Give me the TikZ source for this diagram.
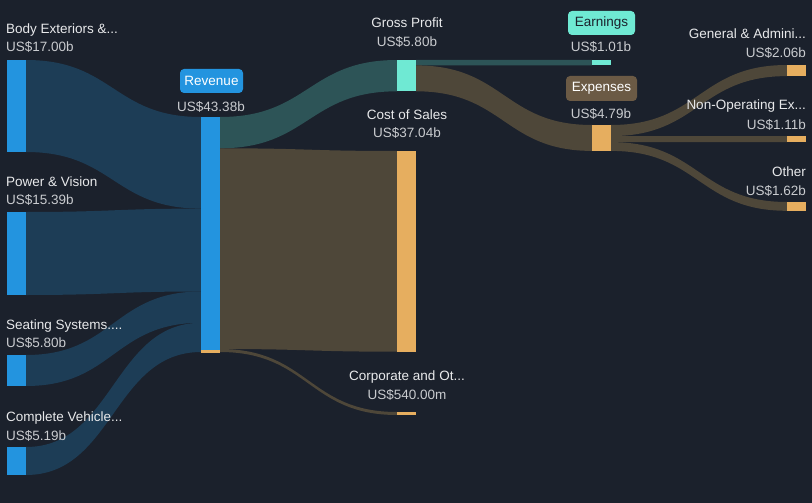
\documentclass[tikz,border=0pt]{standalone}
\usepackage{fontspec}
\setmainfont{Liberation Sans}
\definecolor{bg}{HTML}{1B212C}
\definecolor{flowblue}{HTML}{1D3D56}
\definecolor{flowteal}{HTML}{2D5457}
\definecolor{flowbrown}{HTML}{4E4739}
\definecolor{barblue}{HTML}{2394DF}
\definecolor{barteal}{HTML}{6FE9D3}
\definecolor{barorange}{HTML}{E6AE5F}
\definecolor{boxbrown}{HTML}{6B5A45}
\definecolor{titletext}{HTML}{E8E9EB}
\definecolor{valtext}{HTML}{C9CBCF}
\newcommand\sflow[7]{\fill[#7] (#1,#2) .. controls ({(#1+#4)/2},#2) and ({(#1+#4)/2},#5) .. (#4,#5) -- (#4,#6) .. controls ({(#1+#4)/2},#6) and ({(#1+#4)/2},#3) .. (#1,#3) -- cycle;}
\tikzset{
  ttl/.style={inner sep=0pt, text=titletext, font=\fontsize{13.5}{14}\selectfont},
  val/.style={inner sep=0pt, text=valtext, font=\fontsize{13.5}{14}\selectfont},
  tag/.style={rounded corners=4pt, inner sep=0pt, font=\fontsize{13.5}{14}\selectfont},
}
\begin{document}
\begin{tikzpicture}[x=1pt,y=-1pt]
\fill[bg] (0,0) rectangle (812,503);
\useasboundingbox (0,0) rectangle (812,503);
% flows left -> revenue
\sflow{26}{60}{152}{201}{117}{208.6}{flowblue}
\sflow{26}{212}{295}{201}{208.6}{291.5}{flowblue}
\sflow{26}{355}{386}{201}{291.5}{322.8}{flowblue}
\sflow{26}{447}{475}{201}{322.8}{352}{flowblue}
% revenue -> gp / cos / corp
\sflow{220}{117}{148.3}{397}{60}{91.3}{flowteal}
\sflow{220}{148.3}{349}{397}{151}{351.7}{flowbrown}
\sflow{220}{349}{352}{397}{412}{415}{flowbrown}
% gp -> earnings / expenses
\sflow{416}{60}{65.4}{592}{60}{65.4}{flowteal}
\sflow{416}{65.4}{91.3}{592}{125}{150.9}{flowbrown}
% expenses -> children
\sflow{611}{125}{136.1}{787}{65}{76.1}{flowbrown}
\sflow{611}{136.1}{142.1}{787}{136}{142}{flowbrown}
\sflow{611}{142.1}{150.9}{787}{202}{210.8}{flowbrown}
% bars
\fill[barblue] (7,60) rectangle (26,152);
\fill[barblue] (7,212) rectangle (26,295);
\fill[barblue] (7,355) rectangle (26,386);
\fill[barblue] (7,447) rectangle (26,475);
\fill[barblue] (201,117) rectangle (220,349.5);
\fill[barorange] (201,349.5) rectangle (220,352.5);
\fill[barteal] (397,60) rectangle (416,91.3);
\fill[barorange] (397,151) rectangle (416,352);
\fill[barorange] (397,412) rectangle (416,415);
\fill[barteal] (592,60) rectangle (611,65.4);
\fill[barorange] (592,125) rectangle (611,151);
\fill[barorange] (787,65) rectangle (806,76.1);
\fill[barorange] (787,136) rectangle (806,142);
\fill[barorange] (787,202) rectangle (806,210.8);
% labels left
\node[ttl, anchor=base west] (t1) at (6,34) {Body Exteriors \&...};
\node[val, anchor=base west] (v1) at (6,52) {US\$17.00b};
\node[ttl, anchor=base west] (t2) at (6,186) {Power \& Vision};
\node[val, anchor=base west] (v2) at (6,204) {US\$15.39b};
\node[ttl, anchor=base west] (t3) at (6,329) {Seating Systems....};
\node[val, anchor=base west] (v3) at (6,347) {US\$5.80b};
\node[ttl, anchor=base west] (t4) at (6,421) {Complete Vehicle...};
\node[val, anchor=base west] (v4) at (6,440) {US\$5.19b};
% revenue
\node[tag, fill=barblue, text=white, minimum width=63pt, minimum height=24pt] (rev) at (211.5,81) {Revenue};
\node[val, anchor=base] (vrev) at (211,111) {US\$43.38b};
% middle
\node[ttl, anchor=base] (tgp) at (407,28) {Gross Profit};
\node[val, anchor=base] (vgp) at (407,47) {US\$5.80b};
\node[ttl, anchor=base] (tcos) at (407,119) {Cost of Sales};
\node[val, anchor=base] (vcos) at (407,138) {US\$37.04b};
\node[ttl, anchor=base] (tcorp) at (407,380) {Corporate and Ot...};
\node[val, anchor=base] (vcorp) at (407,399) {US\$540.00m};
% earnings / expenses
\node[tag, fill=barteal, text=bg, minimum width=67pt, minimum height=24pt] (earn) at (601.5,23) {Earnings};
\node[val, anchor=base] (vearn) at (601,52) {US\$1.01b};
\node[tag, fill=boxbrown, text=white, minimum width=71pt, minimum height=25pt] (exp) at (601.5,88.5) {Expenses};
\node[val, anchor=base] (vexp) at (601,118) {US\$4.79b};
% right
\node[ttl, anchor=base east] (tga) at (806,39) {General \& Admini...};
\node[val, anchor=base east] (vga) at (806,58) {US\$2.06b};
\node[ttl, anchor=base east] (tno) at (806,110) {Non-Operating Ex...};
\node[val, anchor=base east] (vno) at (806,129) {US\$1.11b};
\node[ttl, anchor=base east] (toth) at (806,176) {Other};
\node[val, anchor=base east] (voth) at (806,195) {US\$1.62b};
\end{tikzpicture}
\end{document}
